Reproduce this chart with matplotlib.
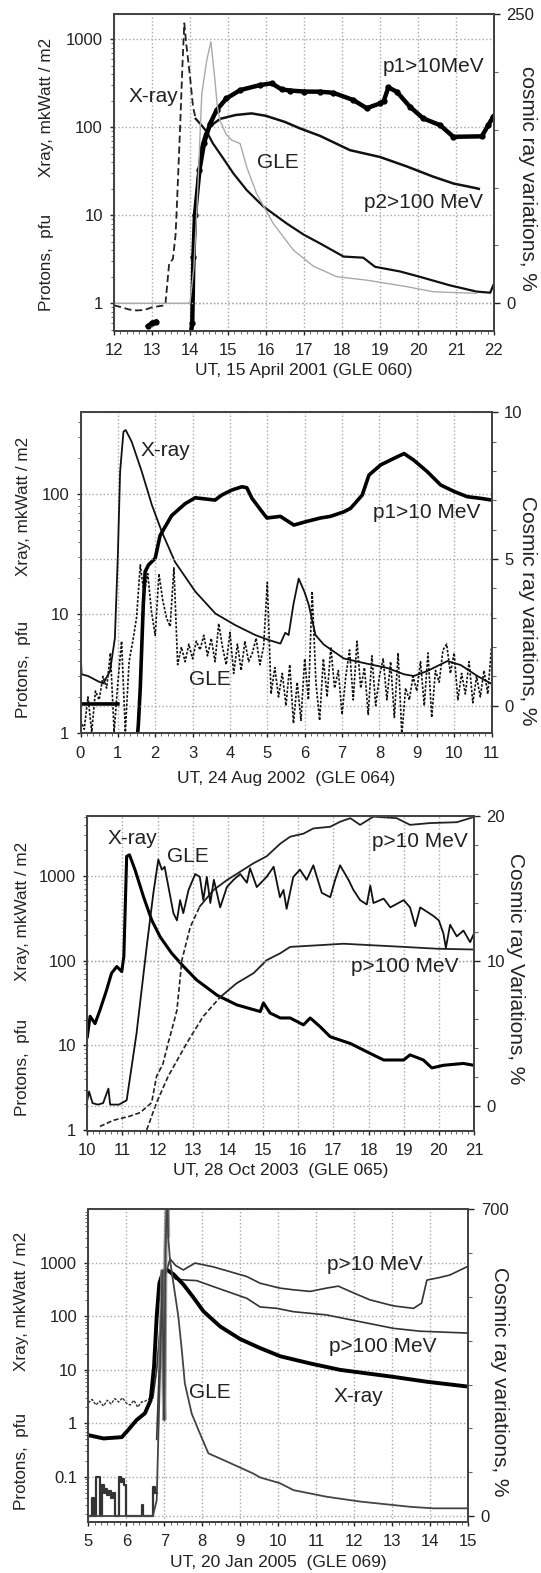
import numpy as np
import matplotlib.pyplot as plt
from matplotlib.ticker import LogLocator, MultipleLocator, NullFormatter

plt.rcParams['font.family'] = ['Liberation Sans', 'DejaVu Sans']

# ---------------- panel 1: 15 April 2001 (GLE 060) ----------------
a_xray_t = [12.0, 12.2, 12.4, 12.6, 12.8, 13.0, 13.2, 13.35, 13.45, 13.55, 13.62, 13.65, 13.74, 13.8,
            13.85, 13.9, 14.0, 14.08, 14.15, 14.3, 14.44, 14.6, 14.88, 15.14, 15.49, 15.93, 16.54,
            17.0, 17.42, 18.04, 18.56, 18.87, 19.53, 20.05, 20.84, 21.54, 21.9, 21.98]
a_xray_v = [0.95, 0.9, 0.85, 0.83, 0.84, 0.9, 0.93, 0.95, 2.8, 3.2, 6, 11.5, 100, 500,
            1520, 900, 377, 171, 125, 106, 89, 66, 44, 30, 19.4, 12.6, 8.1,
            6.0, 4.8, 3.4, 3.3, 2.6, 2.3, 2.0, 1.6, 1.36, 1.32, 1.6]
a_p10_t = [12.9, 13.0, 13.1, np.nan, 14.02, 14.06, 14.09, 14.13, 14.25, 14.37, 14.53, 14.7, 14.96,
           15.32, 15.84, 16.15, 16.41, 16.63, 17.0, 17.42, 17.77, 18.3, 18.65, 19.0, 19.1, 19.22,
           19.44, 19.79, 20.14, 20.58, 20.93, 21.68, 21.85, 21.98]
a_p10_v = [0.55, 0.6, 0.62, np.nan, 0.45, 0.6, 3.4, 10, 33, 66, 110, 157, 213,
           265, 302, 316, 270, 262, 255, 254, 247, 204, 165, 187, 200, 284,
           254, 171, 126, 106, 78, 79, 106, 132]
a_p100_t = [14.05, 14.12, 14.2, 14.3, 14.4, 14.55, 14.8, 15.2, 15.62, 16.0, 16.5, 16.9, 17.42,
            18.21, 19.0, 19.7, 20.4, 20.93, 21.54, 21.6]
a_p100_v = [0.5, 5, 25, 60, 85, 105, 125, 138, 144, 135, 115, 97, 80,
            55, 46, 36, 27.5, 23, 20.3, 20]
a_gle_t = [12.0, 13.9, 14.0, 14.1, 14.18, 14.31, 14.44, 14.55, 14.65, 14.72, 14.79, 14.95, 15.1,
           15.32, 15.49, 15.75, 16.19, 16.72, 17.25, 17.86, 18.65, 19.7, 20.4, 21.54]
a_gle_v = [0, 0, 0.5, 30, 80, 181, 210, 226, 195, 170, 158, 146, 141,
           138, 118, 95, 69, 46, 32, 23, 20, 14.4, 10, 8.6]

# ---------------- panel 2: 24 Aug 2002 (GLE 064) ----------------
b_xray_t = [0.0, 0.03, 0.2, 0.48, 0.61, 0.79, 0.92, 1.0, 1.06, 1.15, 1.21, 1.37, 1.64, 1.91, 2.18,
            2.53, 3.07, 3.61, 4.14, 4.68, 5.04, 5.35, 5.48, 5.57, 5.7, 5.84, 6.0, 6.11, 6.29, 6.51,
            7.05, 7.67, 8.21, 8.66, 8.92, 9.28, 9.82, 10.18, 10.62, 10.98]
b_xray_v = [4.8, 3.1, 3.0, 2.7, 2.6, 3.3, 6.2, 31, 154, 333, 343, 274, 154, 81, 48,
            27, 15.3, 10, 8, 6.6, 6.0, 5.6, 6.9, 6.6, 12, 19.6, 15, 11.8, 6.6, 5.5,
            4.2, 3.8, 3.5, 3.1, 3.0, 3.3, 4.0, 3.7, 3.0, 2.6]
b_p10_t = [0.0, 1.0, np.nan, 1.52, 1.55, 1.6, 1.68, 1.73, 1.82, 2.0, 2.13, 2.44, 2.8, 3.07, 3.6,
           3.78, 4.05, 4.32, 4.45, 4.59, 4.86, 4.99, 5.35, 5.71, 6.06, 6.42, 6.69, 7.05, 7.23,
           7.54, 7.72, 8.03, 8.39, 8.66, 8.92, 9.28, 9.64, 10.0, 10.35, 10.71, 11.0]
b_p10_v = [1.75, 1.75, np.nan, 0.9, 1.2, 2.4, 11.8, 22.4, 25.5, 29, 45, 66, 83, 93, 89,
           98, 108, 115, 113, 92, 71, 63, 65, 55, 59, 63, 65, 71, 76,
           98, 144, 175, 199, 218, 192, 154, 119, 105, 95, 92, 89]
b_gle_t = np.round(np.arange(0, 11.05, 0.1), 2)
b_gle_v = [-0.5, -0.8, 0.3, -0.9, 0.5, 0.2, 1.0, 0.6, 1.8, -0.9,
           0.8, 2.2, -0.9, 1.5, 2.2, 3.0, 4.8, 3.8, 4.5, 3.2,
           2.4, 4.5, 3.6, 3.0, 2.7, 4.7, 1.4, 2.0, 1.5, 2.1,
           1.6, 2.2, 1.9, 2.4, 1.7, 2.3, 1.5, 2.8, 2.0, 1.4,
           2.5, 1.1, 2.1, 1.2, 2.2, 1.5, 1.8, 2.3, 1.4, 2.0,
           4.2, 0.4, 1.3, 0.3, 1.1, 0.0, 1.4, -0.6, 0.8, -0.5,
           1.6, 0.2, 3.9, 0.8, -0.5, 1.6, 0.3, 2.0, 0.6, 1.2,
           -0.3, 1.0, 1.9, 0.2, 2.2, 0.6, 1.3, -0.3, 1.7, 0.0,
           1.0, 1.6, 0.2, 1.5, -0.4, 1.8, -1.0, 0.6, 0.2, 1.0,
           0.5, 1.5, 0.0, 1.8, -0.4, 1.2, 0.8, 1.9, 2.1, 1.1,
           1.8, 0.2, 1.1, 0.4, 1.5, 0.1, 1.0, 0.3, 1.2, 0.4, 2.0]

# ---------------- panel 3: 28 Oct 2003 (GLE 065) ----------------
c_xray_t = [10.0, 10.08, 10.22, 10.36, 10.55, 10.69, 10.84, 10.98, 11.04, 11.12, 11.2, 11.36, 11.6,
            11.83, 12.07, 12.4, 12.74, 13.11, 13.69, 14.25, 14.92, 15.01, 15.2, 15.49, 15.77, 16.15,
            16.34, 16.62, 16.91, 17.48, 18.05, 18.43, 19.0, 19.18, 19.56, 19.8, 20.13, 20.7, 20.99]
c_xray_v = [12.6, 22, 18, 26, 45, 71, 85, 74, 112, 1700, 1770, 1170, 565,
            302, 191, 122, 85, 59, 39, 30, 25, 31.6, 24, 21, 21, 17.4,
            21, 16.6, 12.6, 10.5, 8.0, 6.7, 6.7, 7.7, 6.7, 5.4, 5.8, 6.1, 5.8]
c_p10_t = [10.36, 10.74, 11.2, 11.5, 11.83, 11.97, 12.15, 12.3, 12.45, 12.55, 12.69, 12.93, 13.2,
           13.59, 13.97, 14.35, 14.73, 15.1, 15.49, 15.77, 16.15, 16.43, 16.91, 17.19, 17.48,
           17.76, 18.14, 18.8, 19.18, 19.75, 20.51, 20.89, 21.0]
c_p10_v = [1.1, 1.3, 1.45, 1.6, 2.1, 4.3, 6, 10.6, 18, 26, 101, 250, 435,
           680, 890, 1120, 1410, 1700, 2400, 2900, 3150, 3630, 3800, 4350, 4800,
           4000, 5000, 4800, 4000, 4200, 4300, 4800, 5000]
c_p100_t = [11.69, 11.97, 12.3, 12.83, 13.3, 13.78, 14.25, 14.73, 15.1, 15.49, 15.77, 16.62, 17.29,
            18.05, 19.0, 19.94, 21.0]
c_p100_v = [1.0, 2.1, 4.3, 10.6, 22, 37, 54, 71, 101, 122, 145, 152, 158,
            152, 145, 138, 135]
c_gle_t = [10.0, 10.05, 10.15, 10.3, 10.45, 10.6, 10.65, 10.9, 11.12, 11.4, 11.7, 11.88, 12.02,
           12.12, 12.2, 12.34, 12.45, 12.55, 12.64, 12.73, 12.88, 13.07, 13.2, 13.3, 13.4, 13.5,
           13.6, 13.78, 13.97, 14.16, 14.35, 14.54, 14.63, 14.82, 15.1, 15.3, 15.48, 15.58, 15.67,
           15.86, 16.05, 16.24, 16.43, 16.67, 16.91, 17.05, 17.19, 17.43, 17.57, 17.76, 17.95,
           18.05, 18.14, 18.43, 18.62, 19.0, 19.18, 19.33, 19.47, 19.85, 20.0, 20.13, 20.2,
           20.32, 20.51, 20.7, 20.89, 21.0]
c_gle_v = [0.4, 1.0, 0.2, 0.1, 0.2, 1.2, 0.1, 0.1, 0.4, 5, 11.2, 14.7, 17.0,
           16.3, 16.5, 14.7, 13.3, 12.8, 14.2, 13.3, 14.9, 16.0, 15.8, 14.2, 15.8, 14.0,
           15.6, 13.7, 15.1, 15.6, 16.0, 15.4, 16.4, 15.1, 15.8, 16.5, 14.4, 14.9, 13.6,
           15.8, 16.3, 15.6, 16.6, 14.7, 14.4, 15.6, 16.6, 15.6, 14.9, 14.2, 13.9,
           15.2, 14.0, 14.3, 13.7, 14.2, 13.7, 12.4, 13.7, 13.1, 12.8, 11.9, 10.9,
           12.5, 11.7, 12.1, 11.3, 11.9]

# ---------------- panel 4: 20 Jan 2005 (GLE 069) ----------------
d_xray_t = [5.0, 5.4, 5.88, 6.05, 6.27, 6.49, 6.64, 6.73, 6.8, 6.87, 6.97, 7.08, 7.24, 7.5, 7.76,
            8.03, 8.47, 8.99, 9.5, 10.05, 10.84, 11.63, 12.33, 13.03, 13.91, 14.96]
d_xray_v = [0.6, 0.52, 0.55, 0.75, 1.15, 1.54, 2.7, 11.5, 100, 420, 690, 740, 620, 400, 230,
            125, 65, 38, 26, 18, 13.2, 10, 8.6, 7.4, 6.0, 4.9]
d_p10_t = [5.0, 5.1, 5.2, 5.3, 5.4, 5.5, 5.6, 5.7, 5.8, 5.9, 6.0, 6.1, 6.2, 6.3, 6.4, 6.5, 6.6,
           6.7, 6.8, 6.9, 7.0, 7.15, 7.3, 7.5, 7.81, 8.29, 9.17, 9.52, 10.04, 10.4, 10.84, 11.27,
           11.58, 11.89, 12.41, 13.03, 13.56, 13.77, 13.91, 14.26, 14.52, 14.96]
d_p10_v = [2.4, 2.8, 2.2, 2.6, 2.1, 2.7, 2.3, 2.9, 2.5, 3.0, 2.4, 2.2, 2.7, 2.0, 2.5, 2.6, 2.9,
           3.0, 10, 80, 500, 1200, 900, 745, 1000, 850, 560, 420, 340, 316, 295, 340,
           370, 295, 205, 158, 142, 178, 480, 540, 600, 850]
d_p100_pre_t = [5.0, 5.1, 5.15, 5.2, 5.3, 5.35, 5.4, 5.45, 5.5, 5.55, 5.6, 5.65, 5.7, 5.8, 5.85,
                5.9, 5.95, 6.0, 6.4, 6.45, 6.7, 6.75, 6.8]
d_p100_pre_v = [0.018, 0.04, 0.018, 0.1, 0.018, 0.07, 0.05, 0.06, 0.045, 0.055, 0.04, 0.05, 0.018,
                0.1, 0.08, 0.09, 0.07, 0.018, 0.03, 0.018, 0.065, 0.05, 0.05]
d_p100_t = [6.8, 6.85, 6.9, 7.0, 7.05, 7.15, 7.3, 7.59, 7.85, 8.29, 9.17, 9.52, 9.96, 10.4, 11.27,
            12.15, 13.03, 13.73, 14.96]
d_p100_v = [0.5, 5, 60, 500, 800, 650, 500, 480, 470, 363, 219, 151, 142, 123, 107,
            80, 60, 53, 49]
d_gle_t = [5.0, 6.7, 6.8, 6.89, 6.95, 6.98, 7.0, 7.03, 7.06, 7.08, 7.1, 7.15, 7.24, 7.37, 7.46,
           7.54, 7.72, 7.9, 8.16, 8.55, 9.34, 9.52, 10.04, 10.4, 11.27, 12.15, 13.03, 13.47,
           14.08, 14.96]
d_gle_v = [0, 0, 36, 340, 560, 300, 220, 600, 700, 760, 640, 584, 531, 455, 379,
           303, 234, 196, 143, 128, 97, 88, 75, 59, 44, 33, 25, 21,
           17.5, 17.5]

W, H = 541, 1573
fig = plt.figure(figsize=(W / 100, H / 100), dpi=100)
TXT = '#222222'
GRID = '#a8a8a8'


def ftext(x, y, s, **kw):
    kw.setdefault('ha', 'center')
    kw.setdefault('va', 'center')
    kw.setdefault('color', TXT)
    fig.text(x / W, 1 - y / H, s, **kw)


def panel(box, xlim, ylim, rlim, yt, rt, rminor):
    l, r, t, b = box
    ax = fig.add_axes([l / W, 1 - b / H, (r - l) / W, (b - t) / H])
    ax.set_yscale('log')
    ax.set_xlim(*xlim)
    ax.set_ylim(*ylim)
    ax.set_xticks(range(xlim[0], xlim[1] + 1))
    ax.xaxis.set_minor_locator(MultipleLocator(1 / 6))
    ax.set_yticks(yt)
    ax.set_yticklabels([f'{v:g}' for v in yt])
    ax.yaxis.set_minor_locator(LogLocator(subs=np.arange(2, 10)))
    ax.yaxis.set_minor_formatter(NullFormatter())
    ax.grid(True, which='major', ls=':', color=GRID, lw=1)
    ax.tick_params(which='major', direction='out', length=3, width=1, labelsize=12,
                   pad=5, colors=TXT)
    ax.tick_params(axis='x', which='major', pad=6)
    ax.tick_params(which='minor', direction='out', length=2, width=0.7, colors='#666')
    ax2 = ax.twinx()
    ax2.set_ylim(*rlim)
    ax2.set_yticks(rt)
    ax2.yaxis.set_minor_locator(MultipleLocator(rminor))
    ax2.grid(True, which='major', axis='y', ls=':', color=GRID, lw=1)
    ax2.tick_params(which='major', direction='out', length=4, width=1, labelsize=12,
                    pad=5, colors=TXT)
    ax2.tick_params(which='minor', direction='out', length=3, width=0.8, colors='#666')
    for a in (ax, ax2):
        for s in a.spines.values():
            s.set_linewidth(1.4)
            s.set_color('#444')
    return ax, ax2


# ---- panel 1
box1 = (114, 494, 14, 330.5)
ax, ax2 = panel(box1, (12, 22), (0.491, 1940), (-23.5, 250), [1, 10, 100, 1000], [0, 250], 50)
xt, xv = np.array(a_xray_t), np.array(a_xray_v)
ax.plot(xt[xt <= 14.15], xv[xt <= 14.15], color='#222', lw=1.3, ls=(0, (4, 2)))
ax.plot(xt[xt >= 14.15], xv[xt >= 14.15], color='#111', lw=1.6)
ax.plot(a_p100_t, a_p100_v, color='#111', lw=1.8)
ax.plot(a_p10_t, a_p10_v, color='#000', lw=3.2, marker='o', ms=3.5)
ax2.plot(a_gle_t, a_gle_v, color='#aaa', lw=1.0)
ftext(153, 97, 'X-ray', fontsize=15)
ftext(278, 162, 'GLE', fontsize=15)
ftext(433, 67, 'p1>10MeV', fontsize=15)
ftext(423, 203, 'p2>100 MeV', fontsize=15)
ftext(47, 107, 'Xray, mkWatt / m2', fontsize=12.3, rotation=90)
ftext(47, 262, 'Protons,  pfu', fontsize=12.3, rotation=90)
ftext(528, 178, 'cosmic ray variations, %', fontsize=15, rotation=270)
ftext(304, 371, 'UT, 15 April 2001 (GLE 060)', fontsize=12.5)

# ---- panel 2
box2 = (80.5, 491.5, 412.3, 733)
ax, ax2 = panel(box2, (0, 11), (1, 483), (-0.93, 10), [1, 10, 100], [0, 5, 10], 1)
ax.plot(b_xray_t, b_xray_v, color='#111', lw=1.3)
ax.plot(b_p10_t, b_p10_v, color='#000', lw=2.6)
ax2.plot(b_gle_t, b_gle_v, color='#111', lw=1.2, ls=(0, (1.5, 1)))
ftext(165, 450, 'X-ray', fontsize=15)
ftext(210, 679, 'GLE', fontsize=15)
ftext(427, 513, 'p1>10 MeV', fontsize=15)
ftext(24, 506, 'Xray, mkWatt / m2', fontsize=12.3, rotation=90)
ftext(24, 669, 'Protons,  pfu', fontsize=12.3, rotation=90)
ftext(528, 611, 'Cosmic ray variations, %', fontsize=15, rotation=270)
ftext(286, 778, 'UT, 24 Aug 2002  (GLE 064)', fontsize=12.5)

# ---- panel 3
box3 = (87.3, 474, 816, 1130.7)
ax, ax2 = panel(box3, (10, 21), (0.98, 5090), (-1.7, 20), [1, 10, 100, 1000], [0, 10, 20], 2)
ax.plot(c_xray_t, c_xray_v, color='#000', lw=2.2)
pt, pv = np.array(c_p10_t), np.array(c_p10_v)
ax.plot(pt[pt <= 13.2], pv[pt <= 13.2], color='#222', lw=1.2, ls=(0, (3, 1.5)))
ax.plot(pt[pt >= 13.2], pv[pt >= 13.2], color='#222', lw=1.3)
pt, pv = np.array(c_p100_t), np.array(c_p100_v)
ax.plot(pt[pt <= 13.78], pv[pt <= 13.78], color='#222', lw=1.2, ls=(0, (3, 1.5)))
ax.plot(pt[pt >= 13.78], pv[pt >= 13.78], color='#222', lw=1.3)
ax2.plot(c_gle_t, c_gle_v, color='#111', lw=1.3)
ftext(132, 838, 'X-ray', fontsize=15)
ftext(188, 857, 'GLE', fontsize=15)
ftext(420, 842, 'p>10 MeV', fontsize=15)
ftext(405, 967, 'p>100 MeV', fontsize=15)
ftext(23, 911, 'Xray, mkWatt / m2', fontsize=12.3, rotation=90)
ftext(23, 1067, 'Protons,  pfu', fontsize=12.3, rotation=90)
ftext(516, 969, 'Cosmic ray Variations, %', fontsize=15, rotation=270)
ftext(281, 1170, 'UT, 28 Oct 2003  (GLE 065)', fontsize=12.5)

# ---- panel 4
box4 = (88.3, 468.3, 1209.3, 1521.7)
ax, ax2 = panel(box4, (5, 15), (0.01436, 10170), (-13, 700), [0.1, 1, 10, 100, 1000], [0, 700], 100)
ax.plot(d_p100_pre_t, d_p100_pre_v, color='#333', lw=1.6, drawstyle='steps-post')
pt, pv = np.array(d_p10_t), np.array(d_p10_v)
ax.plot(pt[pt <= 6.7], pv[pt <= 6.7], color='#333', lw=1.0, ls=(0, (2, 1)))
ax.plot(pt[pt >= 6.7], pv[pt >= 6.7], color='#333', lw=1.2)
ax.plot(d_p100_t, d_p100_v, color='#333', lw=1.2)
ax.plot(d_xray_t, d_xray_v, color='#000', lw=2.8)
gt, gv = np.array(d_gle_t), np.array(d_gle_v)
spike = (gt >= 6.89) & (gt <= 7.1)
ax2.plot(gt[spike], gv[spike], color='#888', lw=3, alpha=0.8)
ax2.plot(gt, gv, color='#444', lw=1.3)
ftext(210, 1393, 'GLE', fontsize=15)
ftext(375, 1265, 'p>10 MeV', fontsize=15)
ftext(383, 1347, 'p>100 MeV', fontsize=15)
ftext(358, 1397, 'X-ray', fontsize=15)
ftext(22, 1301, 'Xray, mkWatt / m2', fontsize=12.3, rotation=90)
ftext(22, 1461, 'Protons,  pfu', fontsize=12.3, rotation=90)
ftext(500, 1382, 'Cosmic ray variations, %', fontsize=15, rotation=270)
ftext(278, 1563, 'UT, 20 Jan 2005  (GLE 069)', fontsize=12.5)

fig.savefig('out.png', dpi=100)
